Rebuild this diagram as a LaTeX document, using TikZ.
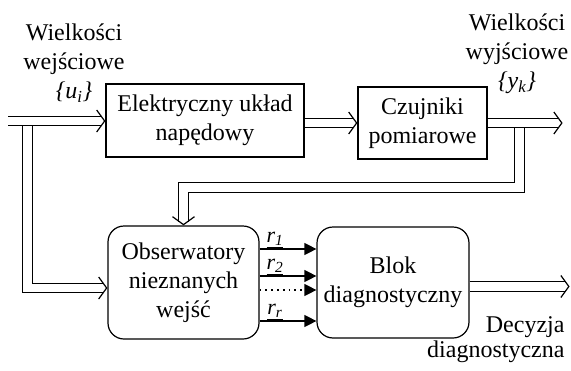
\documentclass[tikz,border=0pt]{standalone}
\usepackage{fontspec}
\setmainfont{Liberation Serif}
\usetikzlibrary{arrows.meta}

\begin{document}
\begin{tikzpicture}[x=1pt,y=-1pt,font=\fontsize{24}{29}\selectfont,
  block/.style={draw,line width=1.2pt,inner sep=0pt,align=center},
  round block/.style={block,rounded corners=16pt},
  bus/.style={double,double distance=8.5pt,line width=1pt},
  bus arrow/.style={bus,shorten >=3.6pt},
  bus tip/.style={draw=white,line width=1pt,-{Straight Barb[color=black,length=8pt,width=22pt,line width=1.2pt]}},
  signal/.style={line width=1.2pt,-{Triangle[length=12pt,width=12pt]}},
  res/.style={above,pos=0.27,inner sep=1pt,font=\fontsize{22}{24}\selectfont}]
\useasboundingbox (0,0) rectangle (571,370);

\node[block,minimum width=198pt,minimum height=73pt] (el) at (205,120.5) {Elektryczny układ\\napędowy};
\node[block,minimum width=129pt,minimum height=72pt] (cz) at (422.5,123) {Czujniki\\pomiarowe};
\node[round block,minimum width=151pt,minimum height=113pt] (obs) at (183.5,282.5) {Obserwatory\\nieznanych\\wejść};
\node[round block,minimum width=152pt,minimum height=111pt] (blok) at (393,282.5) {Blok\\diagnostyczny};

\node[align=center] (we) at (74,63) {Wielkości\\wejściowe\\\textit{\{u\textsubscript{i}\}}};
\node[align=center] (wy) at (517,54) {Wielkości\\wyjściowe\\\textit{\{y\textsubscript{k}\}}};
\node[align=right,anchor=east,font=\fontsize{24}{25}\selectfont] (dec) at (568,340) {Decyzja\\diagnostyczna};

% wejscia
\coordinate (in) at (8,121);
\coordinate (inb) at (27.5,121);
\coordinate (inc) at (27.5,288);
\draw[bus arrow] (inb) -- (inc) -- (inc -| obs.west);
\draw[bus tip] ([xshift=-12pt]inc -| obs.west) -- (inc -| obs.west);
\draw[bus arrow] (in) -- (in -| el.west);
\draw[bus tip] ([xshift=-12pt]in -| el.west) -- (in -| el.west);
\draw[bus arrow] (el.east |- 0,123) -- (cz.west |- 0,123);
\draw[bus tip] ([xshift=-12pt]cz.west |- 0,123) -- (cz.west |- 0,123);

% wyjscia
\coordinate (outb) at (519.5,123);
\coordinate (outc) at (519.5,187.5);
\draw[bus arrow] (outb) -- (outc) -- (outc -| obs.north) -- (obs.north);
\draw[bus tip] ([yshift=12pt]obs.north) -- (obs.north);
\draw[bus arrow] (cz.east) -- +(75,0) coordinate (out);
\draw[bus tip] ([xshift=-12pt]out) -- (out);

% residua
\draw[signal] ([yshift=33.5pt]obs.east) -- node[res] {\underline{\textit{r}\textsubscript{\textit{1}}}} ([yshift=33.5pt]blok.west);
\draw[signal] ([yshift=6.5pt]obs.east) -- node[res] {\underline{\textit{r}\textsubscript{\textit{2}}}} ([yshift=6.5pt]blok.west);
\draw[signal,dash pattern=on 1.8pt off 4pt] ([yshift=-7.5pt]obs.east) -- ([yshift=-7.5pt]blok.west);
\draw[signal] ([yshift=-38.5pt]obs.east) -- node[res] {\underline{\textit{r}\textsubscript{\textit{r}}}} ([yshift=-38.5pt]blok.west);

\draw[bus arrow] ([yshift=-4pt]blok.east) -- ++(100,0) coordinate (dout);
\draw[bus tip] ([xshift=-12pt]dout) -- (dout);
\end{tikzpicture}
\end{document}
